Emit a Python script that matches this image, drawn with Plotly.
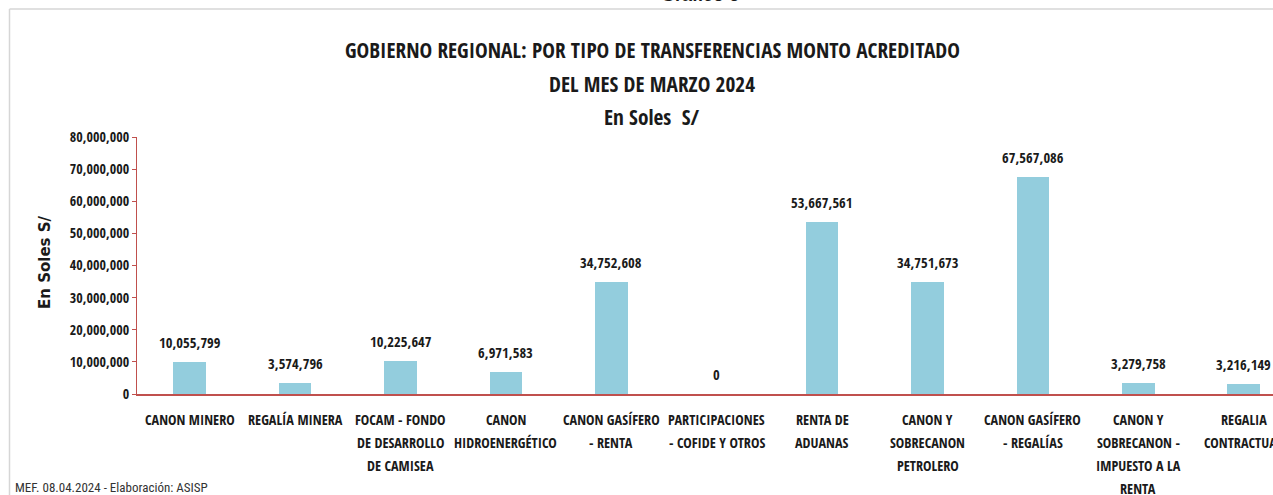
import plotly.graph_objects as go

categories = [
    "CANON MINERO", "REGALÍA MINERA", "FOCAM - FONDO<br>DE DESARROLLO<br>DE CAMISEA",
    "CANON<br>HIDROENERGÉTICO", "CANON GASÍFERO<br>- RENTA", "PARTICIPACIONES<br>- COFIDE Y OTROS",
    "RENTA DE<br>ADUANAS", "CANON Y<br>SOBRECANON<br>PETROLERO", "CANON GASÍFERO<br>- REGALÍAS",
    "CANON Y<br>SOBRECANON -<br>IMPUESTO A LA<br>RENTA", "REGALIA<br>CONTRACTUAL",
]
values = [10055799, 3574796, 10225647, 6971583, 34752608, 0, 53667561,
          34751673, 67567086, 3279758, 3216149]
y_ticks = list(range(0, 80000001, 10000000))
y_tick_labels = [f"{v:,}" for v in y_ticks]

W, H = 1273, 495
L, R, T, B = 137, 1273, 137, 394
pw, ph = R - L, B - T


def px(x):
    return (x - L) / pw


def py(y):
    return (B - y) / ph


COND = "Open Sans Condensed, Roboto Condensed, sans-serif"
DARK = "#1a1a1a"
AXIS = "#C0504D"

fig = go.Figure()
fig.add_trace(go.Bar(
    x=list(range(len(categories))), y=values, width=0.31,
    marker=dict(color="#93CDDD", line=dict(width=0)),
    hoverinfo="skip",
))

# value labels
for i, v in enumerate(values):
    fig.add_annotation(x=i, y=v, text=f"{v:,}", showarrow=False, yanchor="bottom",
                       yshift=8, font=dict(family=COND, size=14.5, color=DARK, weight="bold"))

# category labels (one line each, for the reference's taller line spacing)
for i, cat in enumerate(categories):
    for k, line in enumerate(cat.split("<br>")):
        fig.add_annotation(x=i, y=0, xref="x", yref="paper", text=line, showarrow=False,
                           xanchor="center", yanchor="middle", yshift=-(25 + k * 23),
                           font=dict(family=COND, size=14.2, color=DARK, weight="bold"))

# titles
for txt, yy in [("GOBIERNO REGIONAL: POR TIPO DE TRANSFERENCIAS MONTO ACREDITADO", 49),
                ("DEL MES DE MARZO 2024", 83),
                ("En Soles  S/", 116)]:
    fig.add_annotation(x=px(652), y=py(yy), xref="paper", yref="paper", text=txt,
                       showarrow=False, xanchor="center", yanchor="middle",
                       font=dict(family=COND, size=21.3, color=DARK, weight="bold"))

fig.add_annotation(x=px(700), y=py(-5), xref="paper", yref="paper", text="Gráfico 6",
                   showarrow=False, xanchor="center", yanchor="middle",
                   font=dict(family="Liberation Sans, Arial, sans-serif", size=18, color=DARK, weight="bold"))

fig.add_annotation(x=px(13), y=py(487), xref="paper", yref="paper",
                   text="MEF. 08.04.2024 - Elaboración: ASISP", showarrow=False,
                   xanchor="left", yanchor="middle",
                   font=dict(family="Roboto Condensed, Roboto, sans-serif", size=13,
                             color="#333333", weight="normal"))

# y-axis title
fig.add_annotation(x=px(45), y=py(262), xref="paper", yref="paper", text="En Soles S/",
                   showarrow=False, textangle=-90, xanchor="center", yanchor="middle",
                   font=dict(family="DejaVu Sans, Verdana, sans-serif", size=15, color=DARK, weight="bold"))

# frame lines
fig.add_shape(type="line", xref="paper", yref="paper", x0=px(9.5), x1=px(1290),
              y0=py(9), y1=py(9), line=dict(color="#D6D6D6", width=1.5))
fig.add_shape(type="line", xref="paper", yref="paper", x0=px(9.5), x1=px(9.5),
              y0=py(9), y1=py(500), line=dict(color="#D6D6D6", width=1.5))

fig.update_layout(
    width=W, height=H,
    margin=dict(l=L, r=W - R, t=T, b=H - B),
    paper_bgcolor="white", plot_bgcolor="white",
    showlegend=False,
    bargap=0,
    xaxis=dict(
        range=[-0.5, -0.5 + pw / 105.4], tickmode="array",
        tickvals=list(range(len(categories))), showticklabels=False,
        showline=True, linecolor=AXIS, linewidth=1.5, ticks="",
        showgrid=False, zeroline=False,
    ),
    yaxis=dict(
        range=[0, 80000000], tickmode="array", tickvals=y_ticks, ticktext=y_tick_labels,
        showline=True, linecolor=AXIS, linewidth=1, ticks="outside", tickcolor=AXIS,
        ticklen=4, showgrid=False, zeroline=False,
        tickfont=dict(family=COND, size=14, color=DARK, weight="bold"),
    ),
)

fig.write_html("out.html", config={"displayModeBar": False},
               post_script="document.body.style.margin='0';")
